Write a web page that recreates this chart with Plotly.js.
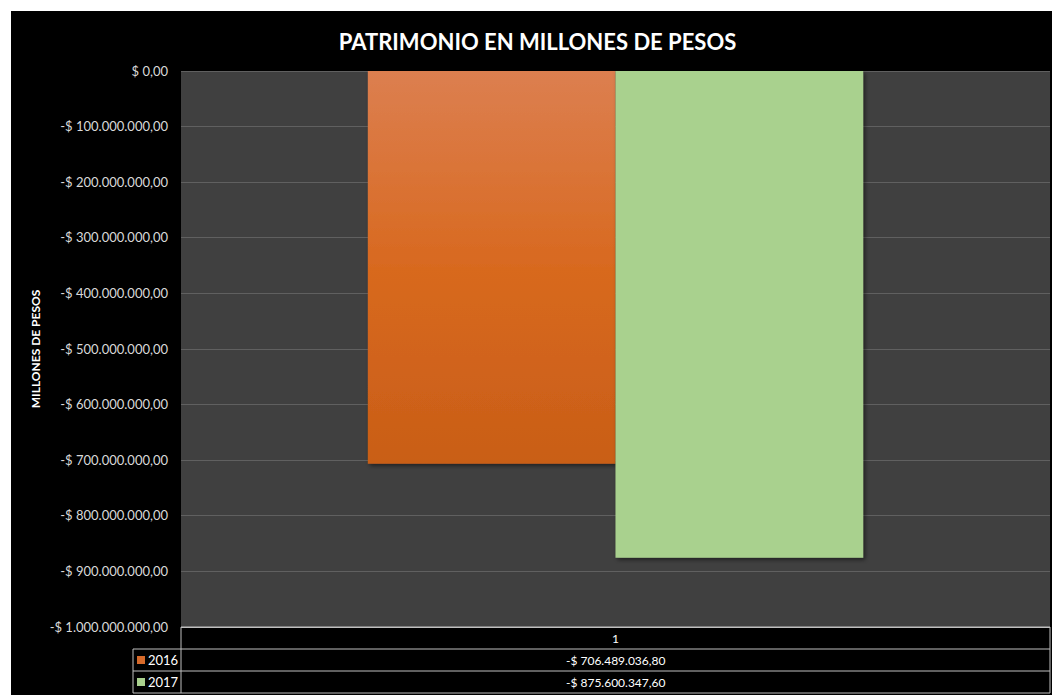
<!DOCTYPE html>
<html>
<head>
<meta charset="utf-8">
<script src="https://cdn.plot.ly/plotly-3.0.1.min.js"></script>
<style>
html,body{margin:0;padding:0;background:#ffffff;}
#chart{position:absolute;left:11px;top:11px;width:1041px;height:684px;}
</style>
</head>
<body>
<div id="chart"></div>
<script>
// ---- data ----
const categories = ['1'];
const seriesNames = ['2016', '2017'];
const values2016 = [-706489036.80];
const values2017 = [-875600347.60];
const tickVals = [0, -100000000, -200000000, -300000000, -400000000, -500000000, -600000000, -700000000, -800000000, -900000000, -1000000000];
const tickText = ['$ 0,00', '-$ 100.000.000,00', '-$ 200.000.000,00', '-$ 300.000.000,00', '-$ 400.000.000,00', '-$ 500.000.000,00', '-$ 600.000.000,00', '-$ 700.000.000,00', '-$ 800.000.000,00', '-$ 900.000.000,00', '-$ 1.000.000.000,00'];
const colors = ['#d5692a', '#a9d18e'];

function fmtPesos(v) {
  const neg = v < 0;
  const a = Math.abs(v);
  let [ip, dp] = a.toFixed(2).split('.');
  ip = ip.replace(/\B(?=(\d{3})+(?!\d))/g, '.');
  return (neg ? '-' : '') + '$ ' + ip + ',' + dp;
}

const W = 1041, H = 684;
const M = {l: 170, r: 2, t: 60, b: 68};
const PW = W - M.l - M.r, PH = H - M.t - M.b;
const px = x => x / PW;
const py = y => 1 - y / PH;

const FONT = 'Lato, "Open Sans", sans-serif';
const gridColor = '#606060';
const tableLine = '#bfbfbf';

const traces = [
  {type: 'bar', x: categories, y: values2016, name: seriesNames[0],
   marker: {color: colors[0], line: {width: 0}}, hoverinfo: 'none'},
  {type: 'bar', x: categories, y: values2017, name: seriesNames[1],
   marker: {color: colors[1], line: {width: 0}}, hoverinfo: 'none'}
];

const rowH = 22;
const shapes = [];
const annotations = [];
function hline(y, x0, x1) {
  shapes.push({type: 'line', xref: 'paper', yref: 'paper', x0: px(x0), x1: px(x1), y0: py(y), y1: py(y),
    line: {color: tableLine, width: 1}});
}
function vline(x, y0, y1) {
  shapes.push({type: 'line', xref: 'paper', yref: 'paper', x0: px(x), x1: px(x), y0: py(y0), y1: py(y1),
    line: {color: tableLine, width: 1}});
}
const legW = 48;
hline(PH, 0, PW);
hline(PH + rowH, -legW, PW);
hline(PH + 2 * rowH, -legW, PW);
hline(PH + 3 * rowH, -legW, PW);
vline(0, PH, PH + 3 * rowH);
vline(-legW, PH + rowH, PH + 3 * rowH);
vline(PW, PH, PH + 3 * rowH);

annotations.push({xref: 'paper', yref: 'paper', x: 0.5, y: py(PH + rowH / 2), text: categories[0],
  showarrow: false, font: {family: FONT, size: 12, color: '#ffffff'}, xanchor: 'center', yanchor: 'middle'});
const allVals = [values2016, values2017];
for (let i = 0; i < 2; i++) {
  const cy = PH + rowH * (i + 1) + rowH / 2;
  annotations.push({xref: 'paper', yref: 'paper', x: 0.5, y: py(cy), text: fmtPesos(allVals[i][0]),
    showarrow: false, font: {family: FONT, size: 12, color: '#ffffff'}, xanchor: 'center', yanchor: 'middle'});
  annotations.push({xref: 'paper', yref: 'paper', x: px(-legW + 13), y: py(cy), text: seriesNames[i],
    showarrow: false, font: {family: FONT, size: 13, color: '#ffffff'}, xanchor: 'left', yanchor: 'middle'});
  shapes.push({type: 'rect', xref: 'paper', yref: 'paper', x0: px(-legW + 4), x1: px(-legW + 12),
    y0: py(cy - 4), y1: py(cy + 4), fillcolor: colors[i], line: {width: 0}});
}

const layout = {
  width: W, height: H,
  paper_bgcolor: '#000000', plot_bgcolor: '#404040',
  margin: M,
  showlegend: false,
  barmode: 'group', bargap: 0.43, bargroupgap: 0,
  title: {text: '<b>PATRIMONIO EN MILLONES DE PESOS</b>', x: 0.5058, xanchor: 'center', y: 1 - 31 / H, yanchor: 'middle',
    font: {family: FONT, size: 22, color: '#ffffff'}},
  xaxis: {showticklabels: false, showgrid: false, zeroline: false, ticks: '', fixedrange: true,
    showline: true, mirror: false, linecolor: tableLine, linewidth: 1},
  yaxis: {range: [-1000000000, 0], tickvals: tickVals, ticktext: tickText, showgrid: true, gridcolor: gridColor,
    gridwidth: 1, zeroline: true, zerolinecolor: gridColor, zerolinewidth: 1, ticks: '', ticklen: 0,
    ticklabelstandoff: 12,
    tickfont: {family: FONT, size: 13, color: '#d9d9d9'}, automargin: false,
    title: {text: '<b>MILLONES DE PESOS</b>', font: {family: FONT, size: 12, color: '#ffffff'}, standoff: 6}},
  shapes: shapes, annotations: annotations
};

Plotly.newPlot('chart', traces, layout, {staticPlot: true, displayModeBar: false}).then(gd => {
  const svg = gd.querySelector('svg.main-svg');
  const ns = 'http://www.w3.org/2000/svg';
  let defs = svg.querySelector('defs');
  if (!defs) { defs = document.createElementNS(ns, 'defs'); svg.insertBefore(defs, svg.firstChild); }
  const grad = document.createElementNS(ns, 'linearGradient');
  grad.setAttribute('id', 'orangeGrad');
  grad.setAttribute('x1', '0'); grad.setAttribute('y1', '0'); grad.setAttribute('x2', '0'); grad.setAttribute('y2', '1');
  [['0', '#dc7f50'], ['0.5', '#d8691f'], ['1', '#c95e17']].forEach(([o, c]) => {
    const s = document.createElementNS(ns, 'stop');
    s.setAttribute('offset', o); s.setAttribute('stop-color', c); grad.appendChild(s);
  });
  defs.appendChild(grad);
  const filt = document.createElementNS(ns, 'filter');
  filt.setAttribute('id', 'barShadow');
  filt.setAttribute('x', '-5%'); filt.setAttribute('y', '-5%'); filt.setAttribute('width', '115%'); filt.setAttribute('height', '115%');
  const fe = document.createElementNS(ns, 'feDropShadow');
  fe.setAttribute('dx', '2'); fe.setAttribute('dy', '2'); fe.setAttribute('stdDeviation', '2');
  fe.setAttribute('flood-color', '#000'); fe.setAttribute('flood-opacity', '0.5');
  filt.appendChild(fe); defs.appendChild(filt);
  const bars = gd.querySelectorAll('.barlayer .trace');
  if (bars[0]) bars[0].querySelectorAll('path').forEach(p => { p.style.fill = 'url(#orangeGrad)'; });
  bars.forEach(t => t.querySelectorAll('path').forEach(p => p.setAttribute('filter', 'url(#barShadow)')));
});
</script>
</body>
</html>
